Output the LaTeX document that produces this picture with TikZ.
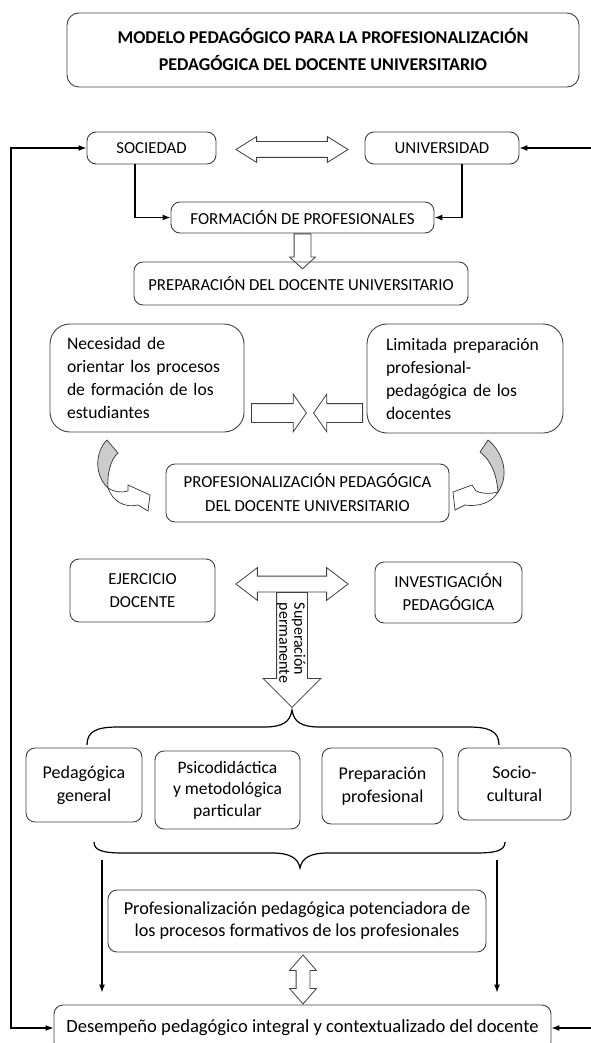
\documentclass[tikz,border=0pt]{standalone}
\usepackage{fontspec}
\setmainfont{Carlito}
\usetikzlibrary{shapes.arrows,arrows.meta}

\tikzset{
	caja/.style={draw=black!75, line width=0.9pt, rounded corners=9pt, align=center, inner sep=0pt, font=\fontsize{16.8}{23}\selectfont},
	cajagrande/.style={caja, rounded corners=20pt, align=left, font=\fontsize{17.6}{23}\selectfont},
	cajabaja/.style={caja, font=\fontsize{18}{23}\selectfont},
	flecha/.style={draw=black!75, line width=0.8pt, fill=white, inner sep=0pt},
	curva/.style={draw=black!80, line width=0.7pt},
	llave/.style={draw=black, line width=1.2pt},
	conector/.style={draw=black, line width=1.2pt},
	>={Latex[length=8pt,width=6pt]}
}

\begin{document}
\begin{tikzpicture}[x=1pt, y=-1pt]
		\useasboundingbox ( 0, 0 ) rectangle ( 590, 1043 );

		% titulo
		\node [caja, rounded corners=12pt, minimum width=512pt, minimum height=74pt, font=\bfseries\fontsize{18}{27}\selectfont] (titulo) at ( 323, 50 ) {MODELO PEDAGÓGICO PARA LA PROFESIONALIZACIÓN\\PEDAGÓGICA DEL DOCENTE UNIVERSITARIO};

		% sociedad - universidad
		\node [caja, minimum width=129pt, minimum height=32pt] (sociedad) at ( 151.5, 148 ) {SOCIEDAD};
		\node [caja, minimum width=154pt, minimum height=32pt] (universidad) at ( 442, 148 ) {UNIVERSIDAD};
		\node [flecha, double arrow, minimum height=112pt, inner ysep=7.5pt, double arrow head extend=5pt, double arrow tip angle=64] (flechaSU) at ( 292, 149.5 ) {};
		\node [caja, minimum width=263pt, minimum height=31pt] (formacion) at ( 302.5, 217.5 ) {FORMACIÓN DE PROFESIONALES};
		\draw [conector, ->] ([xshift=-16.5pt]sociedad.south) |- (formacion.west);
		\draw [conector, ->] ([xshift=20pt]universidad.south) |- (formacion.east);

		\node [flecha, single arrow, rotate=-90, anchor=tail, minimum height=35pt, inner ysep=8pt, single arrow head extend=4.5pt, single arrow tip angle=95] (flechaFP) at (formacion.south) {};
		\node [caja, minimum width=334pt, minimum height=43pt] (preparacion) at ( 301, 283.5 ) {PREPARACIÓN DEL DOCENTE UNIVERSITARIO};

		% necesidad - limitada preparacion
		\node [cajagrande, minimum width=194pt, minimum height=108pt, text width=160pt] (necesidad) at ( 147, 378 ) {Necesidad de\\orientar los procesos\\de formación de los\\estudiantes};
		\node [cajagrande, minimum width=196pt, minimum height=109pt, text width=158pt] (limitada) at ( 465, 378.5 ) {Limitada preparación\\profesional-\\pedagógica de los\\docentes};
		\node [flecha, single arrow, anchor=tail, minimum height=55pt, inner ysep=9pt, single arrow head extend=9.5pt, single arrow tip angle=110] (flechaNec) at ( 251, 413 ) {};
		\node [flecha, single arrow, rotate=180, anchor=tail, minimum height=49pt, inner ysep=9pt, single arrow head extend=9.5pt, single arrow tip angle=110] (flechaLim) at ( 363, 413 ) {};

		% flechas curvas
		\filldraw [curva, fill=gray!40] ( 107, 440 ) .. controls ( 95, 452 ) and ( 94, 475 ) .. ( 108, 488 ) .. controls ( 107, 475 ) and ( 110, 460 ) .. ( 118, 453 ) -- cycle;
		\filldraw [curva, fill=white] ( 108, 488 ) .. controls ( 114, 492 ) and ( 121, 493 ) .. ( 128, 491 ) -- ( 128, 485 ) -- ( 150, 495 ) -- ( 148, 511 ) -- ( 138, 505 ) .. controls ( 125, 508 ) and ( 113, 502 ) .. ( 108, 488 ) -- cycle;
		\filldraw [curva, fill=gray!40] ( 488, 440 ) .. controls ( 503, 452 ) and ( 510, 475 ) .. ( 498, 492 ) .. controls ( 497, 478 ) and ( 493, 462 ) .. ( 480, 452 ) -- cycle;
		\filldraw [curva, fill=white] ( 498, 492 ) .. controls ( 490, 494 ) and ( 482, 494 ) .. ( 476, 491 ) -- ( 472, 485 ) -- ( 453, 492 ) -- ( 455, 510 ) -- ( 465, 505 ) .. controls ( 478, 507 ) and ( 492, 503 ) .. ( 498, 492 ) -- cycle;

		\node [caja, minimum width=283pt, minimum height=58pt, font=\fontsize{16.8}{24}\selectfont] (profesionalizacion) at ( 307.5, 493 ) {PROFESIONALIZACIÓN PEDAGÓGICA\\DEL DOCENTE UNIVERSITARIO};

		% ejercicio - investigacion
		\node [caja, minimum width=145pt, minimum height=63pt] (ejercicio) at ( 142.5, 590.5 ) {EJERCICIO\\DOCENTE};
		\node [caja, minimum width=147pt, minimum height=61pt] (investigacion) at ( 448.5, 592.5 ) {INVESTIGACIÓN\\PEDAGÓGICA};
		\node [flecha, single arrow, rotate=-90, anchor=tail, minimum height=115pt, inner ysep=15pt, single arrow head extend=13.5pt, single arrow tip angle=90] (flechaSup) at ( 292, 592 ) {};
		\node [flecha, double arrow, minimum height=112pt, inner ysep=7.5pt, double arrow head extend=8.5pt, double arrow tip angle=75] (flechaEI) at ( 292, 584 ) {};
		\node [rotate=-90, align=left, inner sep=0pt, font=\fontsize{16}{15}\selectfont] (superacion) at ( 291, 643 ) {Superación\\permanente};

		% llaves
		\draw [llave] ( 87, 745 ) .. controls ( 87, 731 ) and ( 97, 727 ) .. ( 118, 727 ) -- ( 264, 727 ) .. controls ( 283, 727 ) and ( 290, 722 ) .. ( 292, 710 ) .. controls ( 294, 722 ) and ( 301, 727 ) .. ( 320, 727 ) -- ( 468, 727 ) .. controls ( 489, 727 ) and ( 499, 731 ) .. ( 499, 745 );

		% dimensiones
		\node [cajabaja, minimum width=116pt, minimum height=74pt] (general) at ( 84, 785 ) {Pedagógica\\general};
		\node [cajabaja, minimum width=145pt, minimum height=78pt, font=\fontsize{17.5}{21.5}\selectfont] (psicodidactica) at ( 227.5, 790 ) {Psicodidáctica\\y metodológica\\particular};
		\node [cajabaja, minimum width=121pt, minimum height=76pt] (profesional) at ( 382.5, 786 ) {Preparación\\profesional};
		\node [cajabaja, minimum width=113pt, minimum height=72pt] (sociocultural) at ( 514.5, 784 ) {Socio-\\cultural};

		\draw [llave] ( 94, 842 ) .. controls ( 94, 851 ) and ( 104, 853 ) .. ( 124, 853 ) -- ( 272, 853 ) .. controls ( 290, 853 ) and ( 298, 858 ) .. ( 300, 868 ) .. controls ( 302, 858 ) and ( 310, 853 ) .. ( 328, 853 ) -- ( 475, 853 ) .. controls ( 495, 853 ) and ( 505, 851 ) .. ( 505, 842 );

		% resultado
		\node [cajabaja, minimum width=378pt, minimum height=62pt, font=\fontsize{18.2}{22}\selectfont] (potenciadora) at ( 297, 921 ) {Profesionalización pedagógica potenciadora de\\los procesos formativos de los profesionales};
		\node [cajabaja, minimum width=497pt, minimum height=46pt, font=\fontsize{18.6}{23}\selectfont] (desempeno) at ( 302.5, 1028 ) {Desempeño pedagógico integral y contextualizado del docente};
		\node [flecha, double arrow, rotate=90, minimum height=49pt, inner ysep=6.5pt, double arrow head extend=6.5pt, double arrow tip angle=82] (flechaPD) at ( 303, 979.5 ) {};

		\coordinate (bajaIzq) at ( 102, 860 );
		\coordinate (bajaDer) at ( 497, 860 );
		\draw [conector, ->, shorten >=12pt] (bajaIzq) -- (bajaIzq |- desempeno.north);
		\draw [conector, ->, shorten >=12pt] (bajaDer) -- (bajaDer |- desempeno.north);

		% retroalimentacion
		\coordinate (retroIzq) at ( 11, 0 );
		\coordinate (retroDer) at ( 598, 0 );
		\draw [conector, <->] (sociedad.west) -- (sociedad.west -| retroIzq) -- (desempeno.west -| retroIzq) -- (desempeno.west);
		\draw [conector, <->] (universidad.east) -- (universidad.east -| retroDer) -- (desempeno.east -| retroDer) -- (desempeno.east);
	\end{tikzpicture}
\end{document}
